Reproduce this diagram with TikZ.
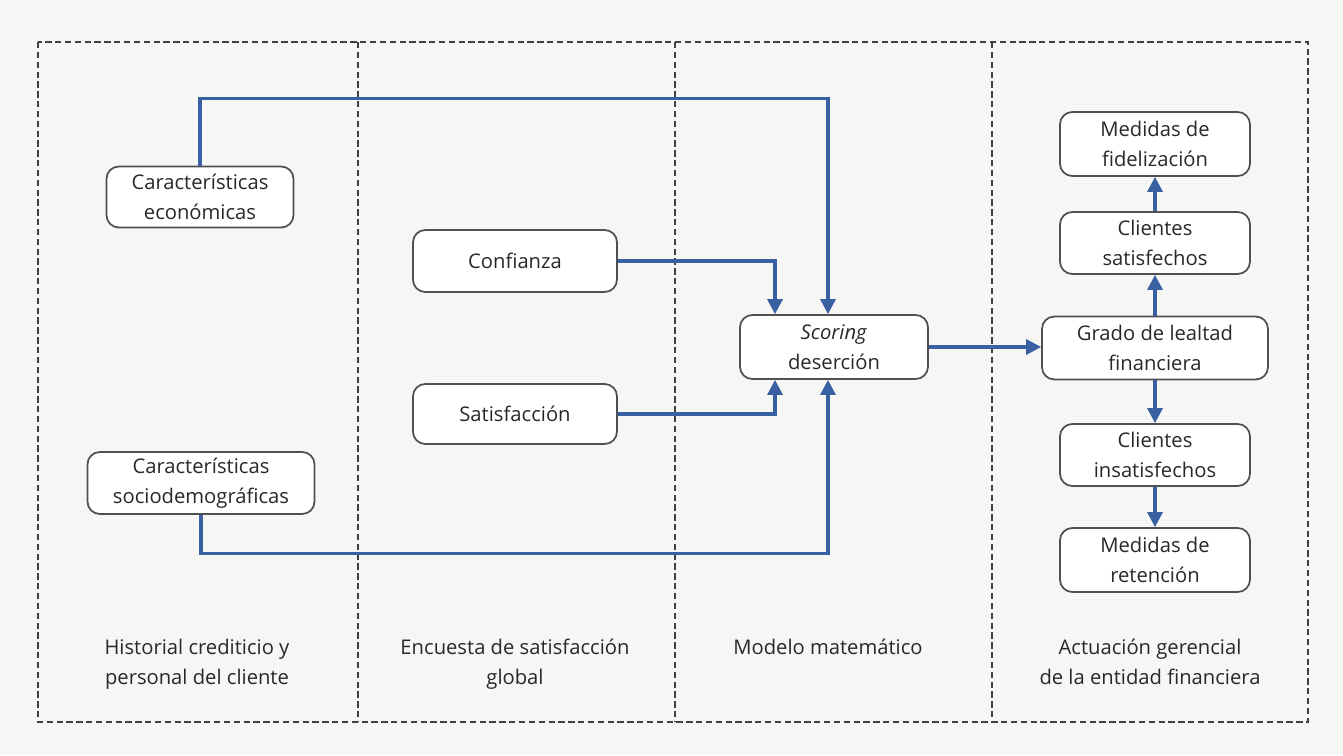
\documentclass[tikz,border=0pt]{standalone}
\usepackage{fontspec}
\setmainfont{Open Sans}
\usepackage{xcolor}
\usetikzlibrary{arrows.meta}

\definecolor{flowblue}{RGB}{58,96,164}
\definecolor{boxgray}{RGB}{80,80,80}
\definecolor{txtgray}{RGB}{40,40,40}
\definecolor{paper}{RGB}{246,246,244}

\tikzset{
  box/.style={draw=boxgray,line width=1pt,rounded corners=7pt,fill=white,
    align=center,text=txtgray,inner sep=2pt,font=\fontsize{11.5}{17}\selectfont},
  flow/.style={draw=flowblue,line width=1.8pt,-{Triangle[length=0.3cm,width=0.3cm]}},
  frame/.style={draw=black!75,line width=0.8pt,dash pattern=on 3.6pt off 2pt},
  collabel/.style={anchor=north,align=center,text=txtgray,font=\fontsize{11.5}{17}\selectfont}
}

\begin{document}
\begin{tikzpicture}[x=0.02cm,y=-0.02cm]
  \useasboundingbox[fill=paper] (0,0) rectangle (1343,755);

  % frame and columns
  \draw[frame] (38,42) rectangle (1308,722);
  \draw[frame] (358,42) -- (358,722);
  \draw[frame] (675,42) -- (675,722);
  \draw[frame] (992,42) -- (992,722);

  \node (econ) at (200,197) [box,minimum width=3.74cm,minimum height=1.22cm] {Características\\económicas};
  \node (socio) at (201,483) [box,minimum width=4.54cm,minimum height=1.24cm] {Características\\sociodemográficas};
  \node (confianza) at (515,261) [box,minimum width=4.08cm,minimum height=1.24cm] {Confianza};
  \node (satisf) at (515,414) [box,minimum width=4.08cm,minimum height=1.2cm] {Satisfacción};
  \node (scoring) at (834,347) [box,minimum width=3.76cm,minimum height=1.28cm] {\textit{Scoring}\\deserción};

  \node (fidel) at (1155,144) [box,minimum width=3.8cm,minimum height=1.28cm] {Medidas de\\fidelización};
  \node (csat) at (1155,243) [box,minimum width=3.8cm,minimum height=1.24cm] {Clientes\\satisfechos};
  \node (grado) at (1155,348) [box,minimum width=4.52cm,minimum height=1.26cm] {Grado de lealtad\\financiera};
  \node (cinsat) at (1155,455) [box,minimum width=3.8cm,minimum height=1.24cm] {Clientes\\insatisfechos};
  \node (reten) at (1155,560) [box,minimum width=3.8cm,minimum height=1.28cm] {Medidas de\\retención};

  \node (lab1) at (197,633) [collabel] {Historial crediticio y\\personal del cliente};
  \node (lab2) at (515,633) [collabel] {Encuesta de satisfacción\\global};
  \node (lab3) at (828,633) [collabel] {Modelo matemático};
  \node (lab4) at (1150,633) [collabel] {Actuación gerencial\\de la entidad financiera};

  \draw[flow] (econ.north) -- ++(0,-67) -| ([xshift=-0.12cm]scoring.north);
  \draw[flow] (confianza.east) -| ([xshift=-1.18cm]scoring.north);
  \draw[flow] (satisf.east) -| ([xshift=-1.18cm]scoring.south);
  \draw[flow] (socio.south) -- ++(0,39) -| ([xshift=-0.12cm]scoring.south);
  \draw[flow] (scoring.east) -- (scoring.east -| grado.west);

  \draw[flow] (grado) -- (csat);
  \draw[flow] (csat) -- (fidel);
  \draw[flow] (grado) -- (cinsat);
  \draw[flow] (cinsat) -- (reten);
\end{tikzpicture}
\end{document}
